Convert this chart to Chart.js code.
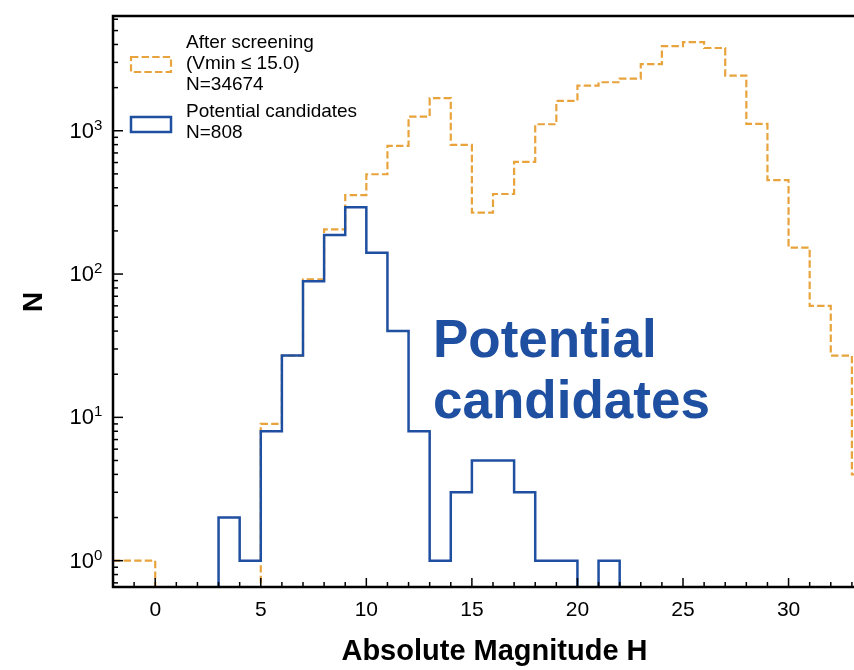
<!DOCTYPE html>
<html>
<head>
<meta charset="utf-8">
<script src="https://cdn.jsdelivr.net/npm/chart.js@4/dist/chart.umd.min.js"></script>
<style>
  body { margin: 0; background: #fff; }
  #wrap { width: 854px; height: 670px; }
</style>
</head>
<body>
<div id="wrap"><canvas id="histChart" width="854" height="670"></canvas></div>
<script>
// bin edges (width 1) for absolute magnitude H; last edge closes the final step
const binEdges = [-2, -1, 0, 1, 2, 3, 4, 5, 6, 7, 8, 9, 10, 11, 12, 13, 14, 15, 16, 17,
  18, 19, 20, 21, 22, 23, 24, 25, 26, 27, 28, 29, 30, 31, 32, 33, 34];
// counts of the bin [binEdges[i], binEdges[i+1])
const afterScreening = [1, 1, 0, 0, 0, 0, 0, 9, 27, 92, 205, 356, 497, 783, 1254, 1687, 796, 268, 362, 606,
  1110, 1615, 2064, 2180, 2311, 2913, 3890, 4150, 3780, 2425, 1115, 452, 153, 60, 27, 4];
const candidates = [0, 0, 0, 0, 0, 2, 1, 8, 27, 89, 187, 292, 141, 40, 8, 1, 3, 5, 5, 3,
  1, 1, 0, 1, 0, 0, 0, 0, 0, 0, 0, 0, 0, 0, 0, 0];

const xTickLabels = [0, 5, 10, 15, 20, 25, 30];
const yTickExponents = [0, 1, 2, 3];
const legendScreening = ['After screening', '(Vmin \u2264 15.0)', 'N=34674'];
const legendCandidates = ['Potential candidates', 'N=808'];
const noteLines = ['Potential', 'candidates'];

const ORANGE = '#e8a33c';
const BLUE = '#1f4fa0';
const FONT = '"Liberation Sans", Arial, Helvetica, sans-serif';
const LOG_FLOOR = 0.05; // empty bins drawn below the axis on the log scale

// step-before outline: each edge carries the count of the bin that starts there
const toPoints = (counts) => binEdges.map((x, i) => {
  const c = i < counts.length ? counts[i] : counts[counts.length - 1];
  return { x: x, y: c > 0 ? c : LOG_FLOOR };
});

const axesDecor = {
  id: 'axesDecor',
  afterDatasetsDraw(chart) {
    const { ctx, chartArea: a, scales: { x, y } } = chart;
    ctx.save();
    ctx.strokeStyle = '#000';
    ctx.fillStyle = '#000';

    // inward ticks on bottom axis
    ctx.lineWidth = 1.5;
    for (let v = -1; v <= 33; v++) {
      const px = x.getPixelForValue(v);
      const len = v % 5 === 0 ? 9 : 5;
      ctx.beginPath();
      ctx.moveTo(px, a.bottom);
      ctx.lineTo(px, a.bottom - len);
      ctx.stroke();
    }
    // inward ticks on left axis (log)
    for (let d = -1; d <= 3; d++) {
      for (let m = 1; m <= 9; m++) {
        const v = m * Math.pow(10, d);
        if (v < y.min || v > y.max) continue;
        const py = y.getPixelForValue(v);
        const len = m === 1 ? 10 : 5;
        ctx.beginPath();
        ctx.moveTo(a.left, py);
        ctx.lineTo(a.left + len, py);
        ctx.stroke();
      }
    }

    // frame
    ctx.lineWidth = 2.5;
    ctx.beginPath();
    ctx.moveTo(a.right + 2, a.top);
    ctx.lineTo(a.left, a.top);
    ctx.lineTo(a.left, a.bottom);
    ctx.lineTo(a.right + 2, a.bottom);
    ctx.stroke();

    // x tick labels
    ctx.font = '21px ' + FONT;
    ctx.textAlign = 'center';
    ctx.textBaseline = 'top';
    xTickLabels.forEach(v => ctx.fillText(String(v), x.getPixelForValue(v), a.bottom + 13));

    // y tick labels 10^n
    yTickExponents.forEach(e => {
      const py = y.getPixelForValue(Math.pow(10, e));
      ctx.font = '15px ' + FONT;
      ctx.textAlign = 'left';
      ctx.textBaseline = 'alphabetic';
      ctx.fillText(String(e), 94, py - 1);
      ctx.font = '22px ' + FONT;
      ctx.textAlign = 'right';
      ctx.textBaseline = 'middle';
      ctx.fillText('10', 94, py + 1);
    });

    // axis titles
    ctx.font = 'bold 29px ' + FONT;
    ctx.textAlign = 'center';
    ctx.textBaseline = 'alphabetic';
    ctx.fillText('Absolute Magnitude H', (a.left + 854) / 2 + 11, 660);
    ctx.save();
    ctx.translate(42, 302);
    ctx.rotate(-Math.PI / 2);
    ctx.font = 'bold 28px ' + FONT;
    ctx.fillText('N', 0, 0);
    ctx.restore();

    // legend
    ctx.lineWidth = 2.2;
    ctx.strokeStyle = ORANGE;
    ctx.setLineDash([7.4, 3.2]);
    ctx.strokeRect(131, 57, 40, 15);
    ctx.setLineDash([]);
    ctx.lineWidth = 2.5;
    ctx.strokeStyle = BLUE;
    ctx.strokeRect(131, 117, 40, 15);
    ctx.fillStyle = '#000';
    ctx.font = '19px ' + FONT;
    ctx.textAlign = 'left';
    ctx.textBaseline = 'middle';
    legendScreening.forEach((t, i) => ctx.fillText(t, 186, 43 + i * 21));
    legendCandidates.forEach((t, i) => ctx.fillText(t, 186, 112 + i * 21));

    // annotation
    ctx.fillStyle = BLUE;
    ctx.font = 'bold 53px ' + FONT;
    ctx.textBaseline = 'alphabetic';
    noteLines.forEach((t, i) => ctx.fillText(t, 433, 357 + i * 61));

    ctx.restore();
  }
};

new Chart(document.getElementById('histChart').getContext('2d'), {
  type: 'line',
  data: {
    datasets: [
      {
        label: 'Potential candidates',
        data: toPoints(candidates),
        borderColor: BLUE,
        borderWidth: 2.5,
        stepped: 'before',
        pointRadius: 0,
        fill: false
      },
      {
        label: 'After screening',
        data: toPoints(afterScreening),
        borderColor: ORANGE,
        borderWidth: 2.2,
        borderDash: [7.4, 3.2],
        stepped: 'before',
        pointRadius: 0,
        fill: false
      }
    ]
  },
  options: {
    responsive: false,
    animation: false,
    layout: { padding: { top: 16, right: 0, left: 0, bottom: 0 } },
    plugins: {
      legend: { display: false },
      tooltip: { enabled: false }
    },
    scales: {
      x: {
        type: 'linear',
        min: -2,
        max: 33.1,
        grid: { display: false },
        border: { display: false },
        ticks: { display: false },
        afterFit: (scale) => { scale.height = 83; }
      },
      y: {
        type: 'logarithmic',
        min: 0.655,
        max: 6320,
        grid: { display: false },
        border: { display: false },
        ticks: { display: false },
        afterFit: (scale) => { scale.width = 113; }
      }
    }
  },
  plugins: [axesDecor]
});
</script>
</body>
</html>
